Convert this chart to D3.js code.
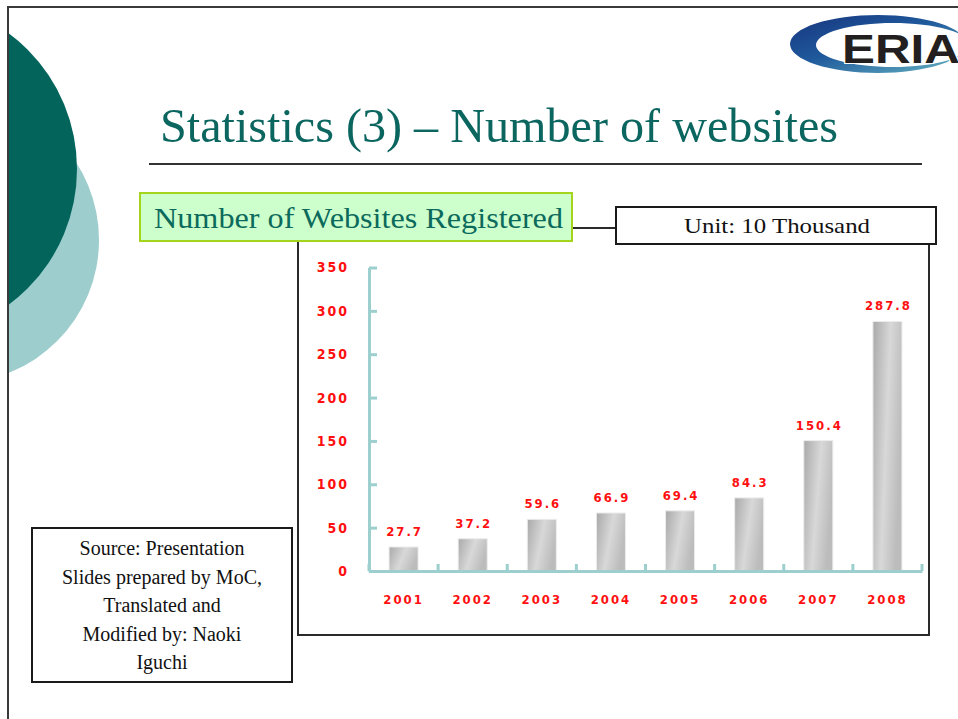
<!DOCTYPE html>
<meta charset="utf-8">
<script src="https://cdn.jsdelivr.net/npm/d3@7"></script>
<style>
  body { margin: 0; background: #fff; }
  svg { display: block; }
</style>
<body>
<script>

var width = 958
var height = 719

// chart data
var years = ["2001", "2002", "2003", "2004", "2005", "2006", "2007", "2008"]
var websites = [27.7, 37.2, 59.6, 66.9, 69.4, 84.3, 150.4, 287.8]
var yTicks = [0, 50, 100, 150, 200, 250, 300, 350]

var title = "Statistics (3) \u2013 Number of websites"
var chartTitle = "Number of Websites Registered"
var unitText = "Unit: 10  Thousand"
var sourceLines = ["Source: Presentation", "Slides prepared by MoC,", "Translated and", "Modified by: Naoki", "Iguchi"]

var serif = "'Liberation Serif', 'Times New Roman', serif"
var digits = "'DejaVu Sans Condensed', 'DejaVu Sans', sans-serif"

var svg = d3.select("body").append("svg")
            .attr("width", width)
            .attr("height", height)

var defs = svg.append("defs")

defs.append("clipPath").attr("id", "slideclip")
    .append("rect")
    .attr("x", 8).attr("y", 6)
    .attr("width", width).attr("height", height)

var barGrad = defs.append("linearGradient")
    .attr("id", "bargrad")
    .attr("x1", 0).attr("y1", 0).attr("x2", 1).attr("y2", 0.35)
barGrad.append("stop").attr("offset", "0%").attr("stop-color", "#a9a9a9")
barGrad.append("stop").attr("offset", "55%").attr("stop-color", "#d8d8d8")
barGrad.append("stop").attr("offset", "100%").attr("stop-color", "#bcbcbc")

var logoGrad = defs.append("linearGradient")
    .attr("id", "logograd")
    .attr("x1", 0).attr("y1", 0).attr("x2", 1).attr("y2", 1)
logoGrad.append("stop").attr("offset", "0%").attr("stop-color", "#17347e")
logoGrad.append("stop").attr("offset", "45%").attr("stop-color", "#1f5a9c")
logoGrad.append("stop").attr("offset", "100%").attr("stop-color", "#6ab8c4")

// slide decoration
var deco = svg.append("g").attr("clip-path", "url(#slideclip)")
deco.append("circle")
    .attr("cx", -44).attr("cy", 240).attr("r", 143)
    .style("fill", "#9dcdcd")
deco.append("circle")
    .attr("cx", -92).attr("cy", 169).attr("r", 169)
    .style("fill", "#03645c")

svg.append("path")
   .attr("d", "M 8,719 L 8,7 L 958,7")
   .style("fill", "none")
   .style("stroke", "#3a3a3a")
   .style("stroke-width", 2)

// ERIA logo: a ring that is thick on the left
var ring = d3.path()
ring.ellipse = function(cx, cy, rx, ry) {
  this.moveTo(cx + rx, cy)
  for (var k = 1; k <= 64; k++) {
    var a = k / 64 * 2 * Math.PI
    this.lineTo(cx + rx * Math.cos(a), cy + ry * Math.sin(a))
  }
  this.closePath()
}
ring.ellipse(878, 44, 88, 29)
ring.ellipse(893, 45, 77, 22)
svg.append("path")
   .attr("d", ring.toString())
   .attr("fill-rule", "evenodd")
   .style("fill", "url(#logograd)")
svg.append("text")
   .attr("x", 842).attr("y", 63)
   .attr("textLength", 118)
   .attr("lengthAdjust", "spacingAndGlyphs")
   .style("font-family", "'Liberation Sans', Arial, sans-serif")
   .style("font-weight", "bold")
   .style("font-size", "40px")
   .style("fill", "#231f20")
   .style("stroke", "#fff")
   .style("stroke-width", 2)
   .style("paint-order", "stroke")
   .text("ERIA")

// slide title
svg.append("text")
   .attr("x", 160).attr("y", 142)
   .attr("textLength", 678)
   .attr("lengthAdjust", "spacingAndGlyphs")
   .style("font-family", serif)
   .style("font-size", "48px")
   .style("fill", "#0b6660")
   .text(title)

svg.append("line")
   .attr("x1", 149).attr("x2", 922)
   .attr("y1", 164).attr("y2", 164)
   .style("stroke", "#333")
   .style("stroke-width", 2)

// chart frame (top edge hidden behind the two label boxes)
svg.append("rect")
   .attr("x", 298).attr("y", 228)
   .attr("width", 631).attr("height", 407)
   .style("fill", "#fff")
   .style("stroke", "#2a2a2a")
   .style("stroke-width", 2)

svg.append("rect")
   .attr("x", 140).attr("y", 193)
   .attr("width", 432).attr("height", 48)
   .style("fill", "#ccffcc")
   .style("stroke", "#a4d41c")
   .style("stroke-width", 2)
svg.append("text")
   .attr("x", 154).attr("y", 228)
   .attr("textLength", 409)
   .attr("lengthAdjust", "spacingAndGlyphs")
   .style("font-family", serif)
   .style("font-size", "29px")
   .style("fill", "#0c6a5c")
   .text(chartTitle)

svg.append("rect")
   .attr("x", 616).attr("y", 207)
   .attr("width", 320).attr("height", 37)
   .style("fill", "#fff")
   .style("stroke", "#1a1a1a")
   .style("stroke-width", 2)
svg.append("text")
   .attr("x", 684).attr("y", 233)
   .attr("textLength", 186)
   .attr("lengthAdjust", "spacingAndGlyphs")
   .style("font-family", serif)
   .style("font-size", "22px")
   .style("fill", "#111")
   .text(unitText)

// scales
var x = d3.scaleBand()
          .domain(years)
          .range([369, 922])
          .paddingInner(0.58)
          .paddingOuter(0.29)

var y = d3.scaleLinear()
          .domain([0, 350])
          .range([571, 267.5])

var axisColor = "#9dcfcf"

// bars
svg.append("g").attr("id", "bars")
   .selectAll("rect")
   .data(websites)
   .join("rect")
   .attr("x", (d, i) => x(years[i]))
   .attr("y", d => y(d))
   .attr("width", x.bandwidth())
   .attr("height", d => y(0) - y(d))
   .style("fill", "url(#bargrad)")
   .style("stroke", "#ececec")
   .style("stroke-width", 1)

svg.append("g").attr("id", "values")
   .selectAll("text")
   .data(websites)
   .join("text")
   .attr("x", (d, i) => x(years[i]) + x.bandwidth() / 2 + 1)
   .attr("y", d => y(d) - 11)
   .style("text-anchor", "middle")
   .style("font-family", digits)
   .style("font-weight", "bold")
   .style("font-size", "13px")
   .style("letter-spacing", "2px")
   .style("fill", "#ff1010")
   .text(d => d3.format(".1f")(d))

// y axis
var yAxis = svg.append("g")
   .attr("transform", "translate(" + x.range()[0] + ",0)")
   .call(d3.axisLeft(y).tickValues(yTicks).tickSizeInner(-8).tickSizeOuter(0).tickPadding(20))
yAxis.select(".domain").style("stroke", axisColor).style("stroke-width", 3)
yAxis.selectAll(".tick line").style("stroke", axisColor).style("stroke-width", 3)
yAxis.selectAll(".tick text")
     .style("font-family", digits)
     .style("font-weight", "bold")
     .style("font-size", "14px")
     .style("letter-spacing", "2px")
     .style("fill", "#ff1010")

// x axis
var xAxis = svg.append("g")
   .attr("transform", "translate(0," + y(0) + ")")
   .call(d3.axisBottom(x).tickSize(0).tickPadding(24))
xAxis.select(".domain").style("stroke", axisColor).style("stroke-width", 3)
xAxis.selectAll(".tick text")
     .style("font-family", digits)
     .style("font-weight", "bold")
     .style("font-size", "13px")
     .style("letter-spacing", "2px")
     .style("fill", "#ff1010")

// category boundary ticks
svg.append("g").selectAll("line")
   .data(d3.range(years.length + 1))
   .join("line")
   .attr("x1", i => x.range()[0] + i * x.step())
   .attr("x2", i => x.range()[0] + i * x.step())
   .attr("y1", y(0))
   .attr("y2", y(0) - 7)
   .style("stroke", axisColor)
   .style("stroke-width", 3)

// source note
svg.append("rect")
   .attr("x", 32).attr("y", 528)
   .attr("width", 260).attr("height", 154)
   .style("fill", "#fff")
   .style("stroke", "#1a1a1a")
   .style("stroke-width", 2)

svg.append("g").selectAll("text")
   .data(sourceLines)
   .join("text")
   .attr("x", 162)
   .attr("y", (d, i) => 555 + i * 28.5)
   .style("text-anchor", "middle")
   .style("font-family", serif)
   .style("font-size", "20px")
   .style("fill", "#111")
   .text(d => d)

</script>
</body>
